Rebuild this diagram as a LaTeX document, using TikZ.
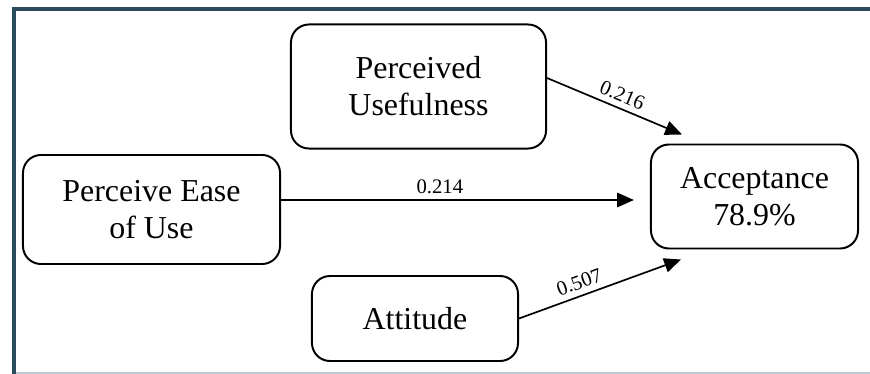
\documentclass[tikz,border=0pt]{standalone}
\usepackage{fontspec}
\setmainfont{Liberation Serif}
\usepackage{tikz}
\usetikzlibrary{arrows.meta,positioning}
\definecolor{framecol}{RGB}{44,74,94}
\definecolor{basecol}{RGB}{188,200,210}

\begin{document}
\begin{tikzpicture}[
    x=0.025cm, y=-0.025cm,
    >={Triangle[length=0.42cm,width=0.36cm]},
    box/.style={rectangle, rounded corners=0.45cm, draw, line width=1.4pt,
                align=center, inner sep=0pt,
                font=\fontsize{22.7}{26.3}\selectfont},
    arr/.style={->, line width=1.2pt},
    coef/.style={font=\fontsize{14.7}{17}\selectfont, sloped, above,
                 inner sep=4pt}
  ]
  \useasboundingbox (0,0) rectangle (870,374);
  % frame round the figure
  \draw[framecol, line width=0.1cm] (880,9.5) -- (14,9.5) -- (14,380);
  \draw[basecol, line width=0.05cm] (16,373) -- (880,373);

  \node[box, minimum width=6.375cm, minimum height=3.1cm] (pu)
    at (418.5,86.5) {Perceived\\Usefulness};
  \node[box, minimum width=6.425cm, minimum height=2.725cm] (peu)
    at (151.5,209.5) {Perceive Ease\\of Use};
  \node[box, minimum width=5.15cm, minimum height=2.125cm] (att)
    at (415,318.5) {Attitude};
  \node[box, minimum width=5.175cm, minimum height=2.6cm] (acc)
    at (754.5,196.5) {Acceptance\\78.9\%};

  \draw[arr] ([shift={(0,-8.5)}]pu.east)
    -- node[coef, pos=0.52] {0.216} ([shift={(32,-9)}]acc.north west);
  \draw[arr] ([shift={(0,-9.5)}]peu.east)
    -- node[coef, pos=0.45] {0.214} ([shift={(-16,3.5)}]acc.west);
  \draw[arr] (att.east)
    -- node[coef, pos=0.4] {0.507} ([shift={(31,10)}]acc.south west);
\end{tikzpicture}
\end{document}
